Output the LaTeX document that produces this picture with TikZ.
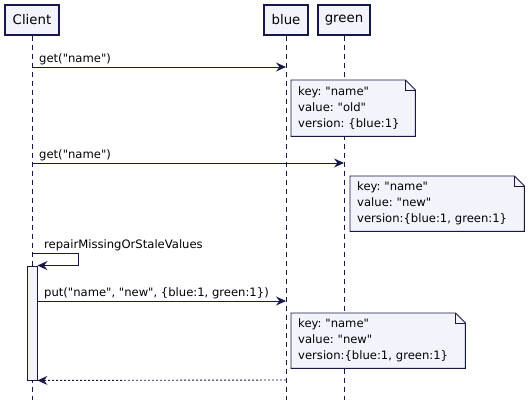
\documentclass[tikz,border=0pt]{standalone}
\usepackage{fontspec}
\setmainfont{DejaVu Sans}[Ligatures=TeXOff]
\usetikzlibrary{arrows.meta,backgrounds}
\definecolor{umlline}{RGB}{24,24,72}
\definecolor{umlfill}{RGB}{243,244,251}
\frenchspacing

\begin{document}
\begin{tikzpicture}[x=1pt,y=-1pt,
  actor/.style={draw=umlline,fill=umlfill,line width=1.2pt,inner sep=0pt,minimum height=30pt,font=\fontsize{13.3}{15}\selectfont},
  life/.style={draw=umlline,line width=0.9pt,dash pattern=on 5pt off 4pt},
  msg/.style={draw=umlline,line width=0.9pt,-{Stealth[length=10pt,width=9pt,inset=3.5pt]}},
  lbl/.style={anchor=base west,inner sep=0pt,font=\fontsize{11.6}{14}\selectfont},
  note/.style={anchor=north west,inner xsep=7pt,inner ysep=0pt,align=left,font=\fontsize{11.6}{16}\selectfont},
  notebox/.style={draw=umlline,fill=umlfill,line width=0.9pt,line join=miter},
  activ/.style={draw=umlline,fill=umlfill,line width=0.9pt,minimum width=10pt,inner sep=0pt}]
\useasboundingbox (0,0) rectangle (530,404);
% participants
\node[actor,minimum width=54pt] (client) at (32,20) {Client};
\node[actor,minimum width=44pt] (blue) at (286,20) {blue};
\node[actor,minimum width=52pt] (green) at (344,20) {green};
\coordinate (client end) at (32,400);
\coordinate (blue end) at (286,400);
\coordinate (green end) at (344,400);
% activation of the client
\node[activ,minimum height=114pt] (act) at (32,323) {};
% messages
\coordinate (c1) at (32,67);
\coordinate (b1) at (286,67);
\coordinate (c2) at (32,163);
\coordinate (g2) at (344,163);
\coordinate (c3) at (32,253);
\coordinate (p3) at (37,301);
\coordinate (b3) at (286,301);
\coordinate (b4) at (286,380);
\draw[msg] (c1) -- (b1);
\node[lbl] (l1) at (39,63) {get("name")};
\draw[msg] (c2) -- (g2);
\node[lbl] (l2) at (39,158) {get("name")};
\draw[msg] (c3) -- ++(46,0) |- (act.north east);
\node[lbl] (l3) at (44,248) {repairMissingOrStaleValues};
\draw[msg] (p3) -- (b3);
\node[lbl] (l4) at (44,296) {put("name", "new", \{blue:1, green:1\})};
\draw[msg,dash pattern=on 2pt off 2pt] (b4) -- (act.south east);
% notes
\node[note,text width=110pt,minimum height=56pt] (n1) at (291,80) {key: "name"\\value: "old"\\version: \{blue:1\}};
\node[note,text width=160pt,minimum height=55pt] (n2) at (350,176) {key: "name"\\value: "new"\\version:\{blue:1, green:1\}};
\node[note,text width=160pt,minimum height=55pt] (n3) at (291,313) {key: "name"\\value: "new"\\version:\{blue:1, green:1\}};
\begin{scope}[on background layer]
\draw[life] (client.south) -- (client end);
\draw[life] (blue.south) -- (blue end);
\draw[life] (green.south) -- (green end);
\draw[notebox] (n1.south west) -- (n1.north west) -- ([xshift=-10pt]n1.north east) -- ([yshift=-10pt]n1.north east) -- (n1.south east) -- cycle;
\draw[notebox,fill=none] ([xshift=-10pt]n1.north east) |- ([yshift=-10pt]n1.north east);
\draw[notebox] (n2.south west) -- (n2.north west) -- ([xshift=-10pt]n2.north east) -- ([yshift=-10pt]n2.north east) -- (n2.south east) -- cycle;
\draw[notebox,fill=none] ([xshift=-10pt]n2.north east) |- ([yshift=-10pt]n2.north east);
\draw[notebox] (n3.south west) -- (n3.north west) -- ([xshift=-10pt]n3.north east) -- ([yshift=-10pt]n3.north east) -- (n3.south east) -- cycle;
\draw[notebox,fill=none] ([xshift=-10pt]n3.north east) |- ([yshift=-10pt]n3.north east);
\end{scope}
\end{tikzpicture}
\end{document}
